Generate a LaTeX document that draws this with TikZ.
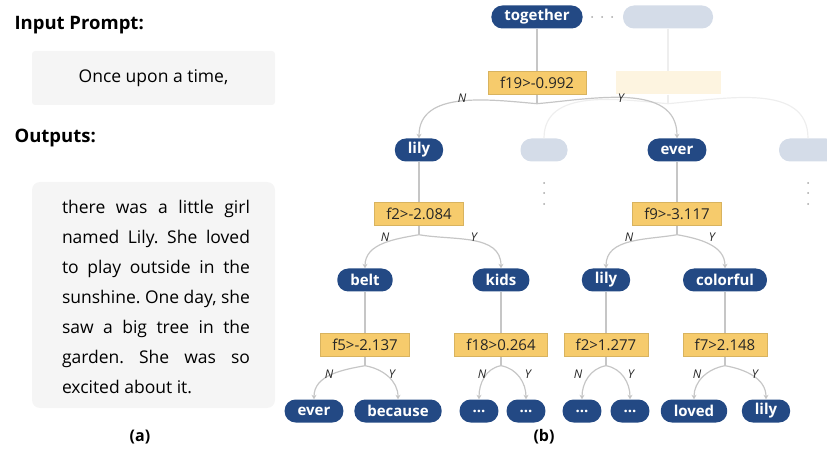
\documentclass[tikz,border=0pt]{standalone}
\usepackage{fontspec}
\setmainfont{Open Sans}
\usetikzlibrary{arrows.meta}

\definecolor{tokblue}{RGB}{35,73,132}
\definecolor{tokpale}{RGB}{212,220,232}
\definecolor{condyel}{RGB}{246,203,108}
\definecolor{condpale}{RGB}{253,244,224}
\definecolor{edgegray}{RGB}{198,198,198}
\definecolor{edgepale}{RGB}{238,238,238}
\definecolor{panelgray}{RGB}{245,245,245}

\tikzset{
  tok/.style={rectangle, rounded corners=11pt, fill=tokblue, text=white,
    font=\fontsize{15}{15}\selectfont\bfseries, minimum height=23pt,
    inner xsep=13pt, inner ysep=0pt},
  tokfaded/.style={tok, fill=tokpale, minimum width=47pt},
  cond/.style={rectangle, fill=condyel, draw=condyel!88!black, line width=0.4pt,
    text=black!85, font=\fontsize{15}{15}\selectfont, minimum height=23pt,
    inner xsep=12pt, inner ysep=0pt},
  condfaded/.style={cond, fill=condpale, draw=none, minimum width=105pt},
  edge/.style={draw=edgegray, line width=1.2pt},
  arr/.style={edge, -{Stealth[length=4.5pt,width=5pt]}},
  edgefaded/.style={draw=edgepale, line width=1.2pt},
  yn/.style={font=\fontsize{12}{12}\selectfont\itshape, text=black!85},
  panel/.style={fill=panelgray, inner sep=0pt},
  head/.style={anchor=west, font=\fontsize{18.5}{18.5}\selectfont\bfseries},
}

\begin{document}
\frenchspacing
\begin{tikzpicture}[x=1pt, y=1pt]
  \useasboundingbox (0,0) rectangle (827,-454);

  % (a) the prompt and the outputs
  \node[head] (inhead) at (11,-25) {Input Prompt:};
  \node[panel, rounded corners=3pt, minimum width=243pt, minimum height=54pt] (prompt) at (153.5,-78)
    {\fontsize{17.5}{17.5}\selectfont Once upon a time,};
  \node[head] (outhead) at (11,-138) {Outputs:};
  \node[panel, rounded corners=8pt, minimum width=243pt, minimum height=226pt] (outbox) at (153.5,-295) {};
  \node[inner sep=0pt] (outtext) at (156,-297) {\parbox{188pt}{\fontsize{17.5}{30}\selectfont
    \makebox[188pt][s]{there was a little girl}\\
    \makebox[188pt][s]{named Lily. She loved}\\
    \makebox[188pt][s]{to play outside in the}\\
    \makebox[188pt][s]{sunshine. One day, she}\\
    \makebox[188pt][s]{saw a big tree in the}\\
    \makebox[188pt][s]{garden. She was so}\\
    excited about it.}};
  \node[font=\fontsize{16}{16}\selectfont\bfseries] (capa) at (140,-437) {(a)};

  % (b) the tree: token nodes
  \node[tok] (together) at (537,-17) {together};
  \node[tokfaded, minimum width=90pt] (topfade) at (668,-17) {};
  \foreach \x in {592,602,612}
    \fill[black!35] (\x,-17) circle (1pt);

  \node[tok] (lily1) at (419,-150) {lily};
  \node[tokfaded] (midfade) at (544,-150) {};
  \node[tok] (ever1) at (677,-150) {ever};
  \node[tokfaded, minimum width=58pt] (rightfade) at (808,-150) {};
  \foreach \x in {544,808}
    \foreach \y in {183,193,204}
      \fill[black!35] (\x,-\y) circle (1pt);

  \node[tok] (belt) at (365,-280) {belt};
  \node[tok] (kids) at (501,-280) {kids};
  \node[tok] (lily2) at (606,-280) {lily};
  \node[tok] (colorful) at (725,-280) {colorful};

  \node[tok] (ever2) at (314,-411) {ever};
  \node[tok] (because) at (398,-411) {because};
  \node[tok] (dotsa) at (479,-411) {...};
  \node[tok] (dotsb) at (526,-411) {...};
  \node[tok] (dotsc) at (582,-411) {...};
  \node[tok] (dotsd) at (630,-411) {...};
  \node[tok] (loved) at (694,-411) {loved};
  \node[tok] (lily3) at (766,-411) {lily};

  % the split conditions
  \node[cond] (c19) at (537,-83) {f19>-0.992};
  \node[condfaded] (cfade) at (668,-83) {};
  \node[cond] (c2a) at (419,-214) {f2>-2.084};
  \node[cond] (c9) at (677,-214) {f9>-3.117};
  \node[cond] (c5) at (365,-345) {f5>-2.137};
  \node[cond] (c18) at (501,-345) {f18>0.264};
  \node[cond] (c2b) at (606,-345) {f2>1.277};
  \node[cond] (c7) at (725,-345) {f7>2.148};

  % faded branch first, so the solid one lies on top
  \draw[edgefaded] (topfade) -- (cfade);
  \draw[edgefaded] (cfade.south) -- ++(0,-9) coordinate (bfade);
  \draw[edgefaded] (bfade) to[out=175,in=90] (midfade.north);
  \draw[edgefaded] (bfade) to[out=5,in=90] (rightfade.north);

  % node -> condition
  \draw[edge] (together) -- (c19);
  \draw[edge] (lily1) -- (c2a);
  \draw[edge] (ever1) -- (c9);
  \draw[edge] (belt) -- (c5);
  \draw[edge] (kids) -- (c18);
  \draw[edge] (lily2) -- (c2b);
  \draw[edge] (colorful) -- (c7);

  % condition -> children
  \draw[edge] (c19.south) -- ++(0,-9) coordinate (b19);
  \draw[arr] (b19) to[out=175,in=90] (lily1.north);
  \draw[arr] (b19) to[out=5,in=90] (ever1.north);
  \foreach \c/\l/\r in {c2a/belt/kids, c9/lily2/colorful, c5/ever2/because,
                        c18/dotsa/dotsb, c2b/dotsc/dotsd, c7/loved/lily3} {
    \draw[edge] (\c.south) -- ++(0,-9) coordinate (b\c);
    \draw[arr] (b\c) to[out=190,in=90] (\l.north);
    \draw[arr] (b\c) to[out=-10,in=90] (\r.north);
  }

  % N / Y labels
  \node[yn] (n19) at (462,-98) {N};
  \node[yn] (y19) at (621,-98) {Y};
  \node[yn] (n2a) at (385,-237) {N};
  \node[yn] (y2a) at (474,-237) {Y};
  \node[yn] (n9) at (629,-237) {N};
  \node[yn] (y9) at (712,-237) {Y};
  \node[yn] (n5) at (329,-374) {N};
  \node[yn] (y5) at (392,-374) {Y};
  \node[yn] (n18) at (482,-374) {N};
  \node[yn] (y18) at (528,-374) {Y};
  \node[yn] (n2b) at (578,-374) {N};
  \node[yn] (y2b) at (631,-374) {Y};
  \node[yn] (n7) at (697,-374) {N};
  \node[yn] (y7) at (755,-374) {Y};

  \node[font=\fontsize{16}{16}\selectfont\bfseries] (capb) at (544,-437) {(b)};
\end{tikzpicture}
\end{document}
